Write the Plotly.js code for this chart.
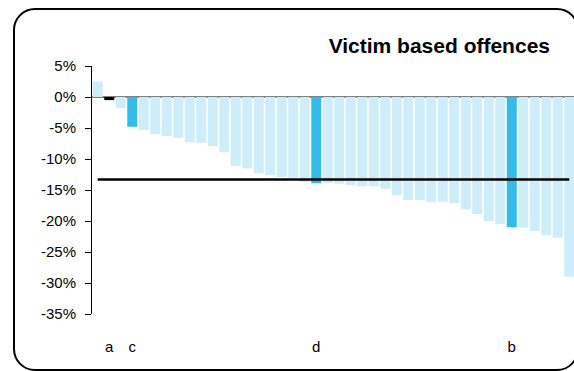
<!DOCTYPE html>
<html>
<head>
<meta charset="utf-8">
<script src="https://cdn.plot.ly/plotly-3.0.1.min.js"></script>
<style>
  html, body { margin: 0; padding: 0; background: #fff; overflow: hidden; }
  #wrap { position: relative; width: 574px; height: 371px; }
  #chart { position: absolute; left: 0; top: 0; width: 574px; height: 371px; }
  #frame { position: absolute; left: 13px; top: 8px; width: 566px; height: 363px;
           box-sizing: border-box; border: 2px solid #000; border-radius: 22px; pointer-events: none; }
</style>
</head>
<body>
<div id="wrap">
  <div id="chart"></div>
  <div id="frame"></div>
</div>
<script>
// Categories (positions along the x axis) and their labels
const categories = [1,2,3,4,5,6,7,8,9,10,11,12,13,14,15,16,17,18,19,20,21,22,23,24,25,26,27,28,29,30,31,32,33,34,35,36,37,38,39,40,41,42];
const labelPositions = [2, 4, 20, 37];
const labelTexts = ['a', 'c', 'd', 'b'];

// Percentage change per force
const values = [2.5,-0.5,-1.8,-4.8,-5.3,-6.0,-6.3,-6.6,-7.3,-7.4,-7.9,-8.9,-11.1,-11.5,-12.3,-12.6,-12.9,-13.0,-13.7,-13.9,-13.9,-14.0,-14.2,-14.4,-14.4,-14.8,-15.8,-16.6,-16.6,-16.9,-16.9,-17.1,-18.1,-18.9,-20.0,-20.5,-21.0,-21.1,-21.6,-22.3,-22.7,-29.0];

// Highlight groups
const blackBars = [2];
const darkBars = [4, 20, 37];

// Average line
const averageValue = -13.3;

// Y tick labels
const yTickVals = [5, 0, -5, -10, -15, -20, -25, -30, -35];
const yTickText = ['5%', '0%', '-5%', '-10%', '-15%', '-20%', '-25%', '-30%', '-35%'];

const colors = categories.map(c => blackBars.includes(c) ? '#000000' : (darkBars.includes(c) ? '#33bbea' : '#cdedf9'));

const traces = [
  {
    type: 'bar',
    x: categories,
    y: values,
    marker: { color: colors, line: { width: 0 } },
    hoverinfo: 'skip'
  },
  {
    type: 'scatter',
    mode: 'lines',
    x: [categories[0], categories[categories.length - 1]],
    y: [averageValue, averageValue],
    line: { color: '#000', width: 2.5 },
    hoverinfo: 'skip'
  }
];

const layout = {
  width: 574,
  height: 371,
  margin: { l: 92, r: 0, t: 66, b: 57 },
  paper_bgcolor: 'rgba(0,0,0,0)',
  plot_bgcolor: 'rgba(0,0,0,0)',
  showlegend: false,
  bargap: 0.13,
  font: { family: 'Liberation Sans, Arial, sans-serif', size: 15, color: '#000' },
  title: {
    text: '<b>Victim based offences</b>',
    font: { family: 'Liberation Sans, Arial, sans-serif', size: 21, color: '#000' },
    xref: 'container', yref: 'container',
    x: 550 / 574, xanchor: 'right',
    y: 1 - 46 / 371, yanchor: 'middle'
  },
  xaxis: {
    range: [0.5, 0.5 + 482 / 11.5],
    tickmode: 'array',
    tickvals: labelPositions,
    ticktext: labelTexts,
    ticks: '',
    showgrid: false,
    zeroline: false,
    showline: false,
    ticklabelstandoff: 22,
    tickfont: { size: 15 }
  },
  yaxis: {
    range: [-35, 5],
    tickmode: 'array',
    tickvals: yTickVals,
    ticktext: yTickText,
    ticks: 'outside',
    ticklen: 6,
    tickcolor: '#000',
    tickwidth: 1,
    showline: true,
    linecolor: '#000',
    linewidth: 1,
    showgrid: false,
    zeroline: true,
    zerolinecolor: '#808080',
    zerolinewidth: 2,
    ticklabelstandoff: 6,
    tickfont: { size: 15 }
  }
};

Plotly.newPlot('chart', traces, layout, { displayModeBar: false, staticPlot: true });
</script>
</body>
</html>
